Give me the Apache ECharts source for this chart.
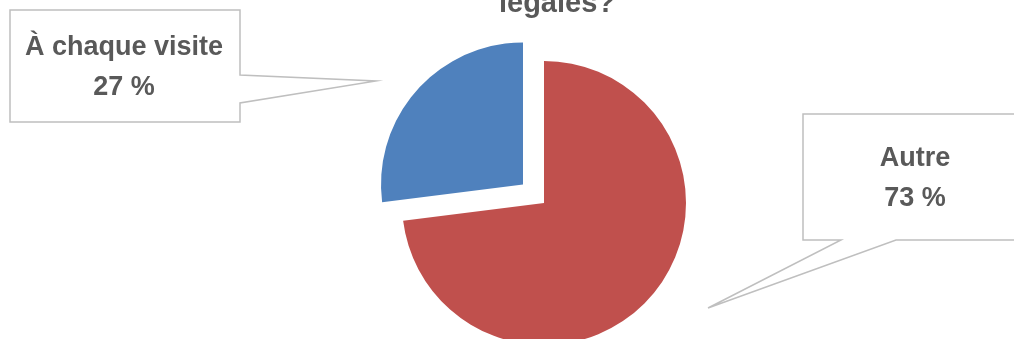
<!DOCTYPE html>
<html>
<head>
<meta charset="utf-8">
<style>
  html, body { margin: 0; padding: 0; background: #fff; }
  #chart { width: 1014px; height: 339px; }
</style>
<script src="https://cdn.jsdelivr.net/npm/echarts@6/dist/echarts.min.js"></script>
</head>
<body>
<div id="chart"></div>
<script>
// slices, clockwise from 12 o'clock
const categories = ['Autre', 'À chaque visite'];
const values = [73, 27];
const colors = ['#C0504D', '#4F81BD'];
const exploded = [false, true];
const titleText = 'légales?';

const textColor = '#595959';
const boxColor = '#BFBFBF';
const labelFont = 'bold 27px "Liberation Sans", Arial, sans-serif';

const chart = echarts.init(document.getElementById('chart'), null, { renderer: 'canvas' });

function pct(i) {
  return values[i] + ' %';
}

// callout bubbles (box + pointer), then the two text lines
const callouts = [
  {
    idx: 1,
    points: [[10, 10], [240, 10], [240, 75], [376, 81], [240, 103], [240, 122], [10, 122]],
    cx: 124, y1: 48, y2: 88
  },
  {
    idx: 0,
    points: [[803, 114], [1030, 114], [1030, 240], [896, 240], [708, 308], [841, 240], [803, 240]],
    cx: 915, y1: 159, y2: 199
  }
];

const graphic = [
  {
    type: 'text',
    style: {
      text: titleText,
      x: 557, y: 4,
      align: 'center',
      verticalAlign: 'middle',
      font: 'bold 29px "Liberation Sans", Arial, sans-serif',
      fill: textColor
    }
  }
];

callouts.forEach(function (c) {
  graphic.push({
    type: 'polygon',
    shape: { points: c.points },
    style: { fill: '#fff', stroke: boxColor, lineWidth: 1.5 },
    z: 10
  });
  graphic.push({
    type: 'text',
    style: {
      text: categories[c.idx], x: c.cx, y: c.y1,
      align: 'center', verticalAlign: 'middle',
      font: labelFont, fill: textColor
    },
    z: 11
  });
  graphic.push({
    type: 'text',
    style: {
      text: pct(c.idx), x: c.cx, y: c.y2,
      align: 'center', verticalAlign: 'middle',
      font: labelFont, fill: textColor
    },
    z: 11
  });
});

const option = {
  animation: false,
  backgroundColor: '#fff',
  series: [
    {
      type: 'pie',
      center: [544, 203],
      radius: 142,
      startAngle: 90,
      clockwise: true,
      selectedMode: 'multiple',
      selectedOffset: 28,
      label: { show: false },
      labelLine: { show: false },
      emphasis: { disabled: true },
      data: categories.map(function (name, i) {
        return {
          name: name,
          value: values[i],
          selected: exploded[i],
          itemStyle: { color: colors[i] }
        };
      })
    }
  ],
  graphic: graphic
};

chart.setOption(option);
</script>
</body>
</html>
